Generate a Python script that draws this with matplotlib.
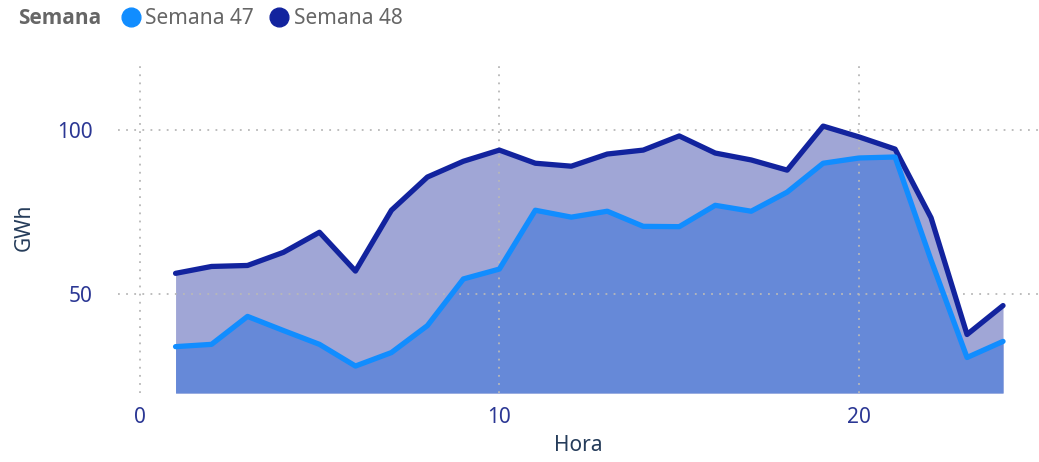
import matplotlib
matplotlib.use('Agg')
from matplotlib import pyplot as plt
from matplotlib.lines import Line2D

horas = list(range(1, 25))
semana_47 = [34.1, 34.8, 43.3, 39.0, 34.8, 28.2, 32.3, 40.5, 54.7, 57.7, 75.6, 73.5,
             75.3, 70.7, 70.6, 77.1, 75.3, 81.1, 89.9, 91.5, 91.8, 60.4, 30.8, 35.7]
semana_48 = [56.4, 58.5, 58.8, 62.8, 68.9, 57.1, 75.6, 85.7, 90.5, 93.9, 89.9, 89.0,
             92.7, 93.9, 98.2, 93.0, 90.9, 87.8, 101.2, 97.9, 94.2, 73.3, 37.8, 46.6]
series = ['Semana 47', 'Semana 48']

LINE_COLORS = ['#118dff', '#12239e']
FILL_COLORS = ['#6689d8', '#a0a6d6']
TICK_COLOR = '#2b3794'
LABEL_COLOR = '#253c5a'

plt.rcParams['font.family'] = ['Noto Sans', 'DejaVu Sans']

fig = plt.figure(figsize=(10.39, 4.62), dpi=100)
ax = fig.add_axes([118 / 1039, 69 / 462, 921 / 1039, 331 / 462])

y_floor = 20
ax.fill_between(horas, y_floor, semana_48, color=FILL_COLORS[1], lw=0, zorder=1)
ax.fill_between(horas, y_floor, semana_47, color=FILL_COLORS[0], lw=0, zorder=2)
ax.plot(horas, semana_48, color=LINE_COLORS[1], lw=3.8, solid_capstyle='round', zorder=4)
ax.plot(horas, semana_47, color=LINE_COLORS[0], lw=3.8, solid_capstyle='round', zorder=5)

ax.set_xlim(-0.6, 25.0)
ax.set_ylim(y_floor, 120.7)
ax.set_xticks([0, 10, 20])
ax.set_yticks([50, 100])
ax.grid(True, color='#b8b8b8', linestyle=(0, (1, 3.5)), linewidth=1.3, zorder=3)
ax.set_axisbelow(False)
for s in ax.spines.values():
    s.set_visible(False)
ax.tick_params(length=0, labelsize=15, labelcolor=TICK_COLOR)
ax.tick_params(axis='x', pad=10)
ax.tick_params(axis='y', pad=18)

ax.set_xlabel('Hora', fontsize=15, color=LABEL_COLOR, labelpad=5)
ax.set_ylabel('GWh', fontsize=15, color=LABEL_COLOR, labelpad=16)

fig.text(18 / 1039, 1 - 19 / 462, 'Semana', fontsize=15, fontweight='bold',
         family='Open Sans', color='#666666', va='center', ha='left')
handles = [Line2D([], [], marker='o', linestyle='none', markersize=13.5,
                  color=c) for c in LINE_COLORS]
fig.legend(handles, series, loc='center left', bbox_to_anchor=(110 / 1039, 1 - 19 / 462),
           ncol=2, frameon=False, fontsize=15, labelcolor='#666666',
           handletextpad=-0.3, columnspacing=0.2, borderaxespad=0, borderpad=0)

fig.savefig('out.png', dpi=100)
